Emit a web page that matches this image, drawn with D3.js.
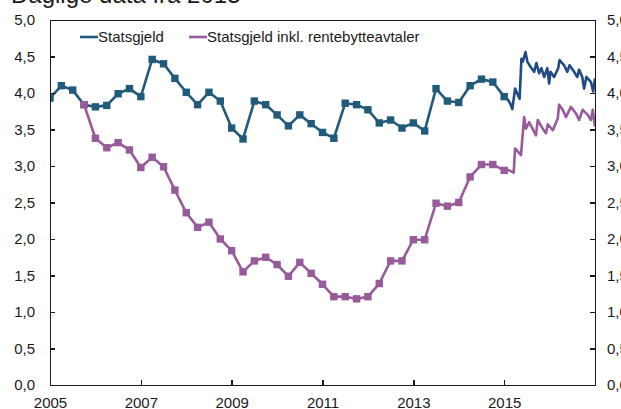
<!DOCTYPE html>
<html>
<head>
<meta charset="utf-8">
<script src="https://cdn.jsdelivr.net/npm/d3@7"></script>
<style>
  body { margin: 0; background: #fff; }
  svg text { font-family: "Liberation Sans", Arial, sans-serif; fill: #1a1a1a; }
  .axis path, .axis line { stroke: #1a1a1a; stroke-width: 1.4px; shape-rendering: crispEdges; }
  .axis text { font-size: 15px; }
</style>
</head>
<body>
<svg id="chart" width="621" height="409"></svg>
<script>
// kvartalsdata, statsgjeld
var quarterTimes = [2004.75, 2005.0, 2005.25, 2005.5, 2005.75, 2006.0, 2006.25, 2006.5, 2006.75,
    2007.0, 2007.25, 2007.5, 2007.75, 2008.0, 2008.25, 2008.5, 2008.75, 2009.0, 2009.25, 2009.5,
    2009.75, 2010.0, 2010.25, 2010.5, 2010.75, 2011.0, 2011.25, 2011.5, 2011.75, 2012.0, 2012.25,
    2012.5, 2012.75, 2013.0, 2013.25, 2013.5, 2013.75, 2014.0, 2014.25, 2014.5, 2014.75, 2015.0];
var statsgjeld = [3.77, 3.93, 4.10, 4.04, 3.84, 3.81, 3.83, 3.99, 4.06,
    3.95, 4.46, 4.40, 4.20, 4.01, 3.84, 4.01, 3.89, 3.52, 3.37, 3.89,
    3.84, 3.70, 3.55, 3.70, 3.58, 3.46, 3.38, 3.86, 3.84, 3.77, 3.59,
    3.63, 3.52, 3.59, 3.48, 4.06, 3.89, 3.87, 4.10, 4.19, 4.15, 3.95];

// kvartalsdata, statsgjeld inkl. rentebytteavtaler (fra 2005K4)
var swapTimes = [2005.75, 2006.0, 2006.25, 2006.5, 2006.75, 2007.0, 2007.25, 2007.5, 2007.75,
    2008.0, 2008.25, 2008.5, 2008.75, 2009.0, 2009.25, 2009.5, 2009.75, 2010.0, 2010.25, 2010.5,
    2010.75, 2011.0, 2011.25, 2011.5, 2011.75, 2012.0, 2012.25, 2012.5, 2012.75, 2013.0, 2013.25,
    2013.5, 2013.75, 2014.0, 2014.25, 2014.5, 2014.75, 2015.0];
var statsgjeldSwap = [3.84, 3.38, 3.25, 3.32, 3.22, 2.98, 3.12, 2.99, 2.67,
    2.36, 2.16, 2.23, 2.00, 1.84, 1.55, 1.70, 1.75, 1.65, 1.49, 1.68,
    1.53, 1.38, 1.21, 1.21, 1.18, 1.21, 1.39, 1.70, 1.70, 1.99, 1.99,
    2.49, 2.45, 2.50, 2.85, 3.02, 3.02, 2.94];

// daglige data fra 2015
var dailyTimes = [2015.0, 2015.07, 2015.13, 2015.18, 2015.24, 2015.29, 2015.34, 2015.38, 2015.41,
    2015.47, 2015.51, 2015.58, 2015.66, 2015.71, 2015.77, 2015.82, 2015.88, 2015.95, 2015.99,
    2016.02, 2016.10, 2016.19, 2016.22, 2016.32, 2016.39, 2016.44, 2016.54, 2016.61, 2016.65,
    2016.72, 2016.76, 2016.81, 2016.91, 2016.96, 2017.0];
var dailyStatsgjeld = [3.95, 3.92, 3.86, 3.78, 4.06, 3.99, 3.92, 4.47, 4.43,
    4.56, 4.43, 4.36, 4.29, 4.41, 4.27, 4.34, 4.22, 4.34, 4.13,
    4.29, 4.22, 4.34, 4.45, 4.38, 4.29, 4.38, 4.29, 4.22, 4.32,
    4.22, 4.06, 4.22, 4.15, 4.02, 4.20];

var dailySwapTimes = [2015.0, 2015.04, 2015.21, 2015.24, 2015.37, 2015.44, 2015.48, 2015.55, 2015.70,
    2015.74, 2015.85, 2015.92, 2015.96, 2016.07, 2016.18, 2016.21, 2016.29, 2016.36, 2016.47,
    2016.58, 2016.65, 2016.73, 2016.84, 2016.91, 2016.95, 2017.0];
var dailyStatsgjeldSwap = [2.94, 2.96, 2.91, 3.24, 3.15, 3.67, 3.51, 3.60, 3.42,
    3.63, 3.51, 3.45, 3.57, 3.49, 3.65, 3.84, 3.77, 3.67, 3.81,
    3.72, 3.63, 3.77, 3.70, 3.63, 3.77, 3.54];

var yTicks = [0, 0.5, 1, 1.5, 2, 2.5, 3, 3.5, 4, 4.5, 5];
var xTicks = [2005, 2007, 2009, 2011, 2013, 2015];
var legendLabels = ["Statsgjeld", "Statsgjeld inkl. rentebytteavtaler"];

var colBlue = "#215b7c", colBlueDaily = "#1f4c88", colPurple = "#975b9c";

var svg = d3.select("#chart");
var padding = {left: 50, right: 26, top: 20, bottom: 24};
var width = 621 - padding.left - padding.right;
var height = 409 - padding.top - padding.bottom;

var x = d3.scaleLinear().domain([2005, 2017]).range([0, width]);
var y = d3.scaleLinear().domain([0, 5]).range([height, 0]);

var locale = d3.formatLocale({decimal: ",", thousands: " ", grouping: [3], currency: ["", " kr"]});
var fmt = locale.format(".1f");

// tittel (delvis utenfor bildet)
svg.append("text")
    .attr("x", 11).attr("y", 3)
    .style("font-size", "24px")
    .text("Daglige data fra 2015");

var g = svg.append("g")
    .attr("transform", "translate(" + padding.left + "," + padding.top + ")");

g.append("clipPath").attr("id", "plotclip")
    .append("rect").attr("width", width).attr("height", height);

function zip(ts, vs) {
    return ts.map(function(t, i) { return {t: t, v: vs[i]}; });
}

var line = d3.line()
    .x(function(d) { return x(d.t); })
    .y(function(d) { return y(d.v); });

var plot = g.append("g").attr("clip-path", "url(#plotclip)");

function drawSeries(data, color, markers) {
    plot.append("path")
        .datum(data)
        .attr("fill", "none")
        .attr("stroke", color)
        .attr("stroke-width", 2.6)
        .attr("stroke-linejoin", "round")
        .attr("d", line);
    if (!markers) return;
    plot.append("g").selectAll("rect")
        .data(data)
        .enter().append("rect")
        .attr("x", function(d) { return x(d.t) - 3.7; })
        .attr("y", function(d) { return y(d.v) - 3.7; })
        .attr("width", 7.4)
        .attr("height", 7.4)
        .attr("fill", color);
}

drawSeries(zip(dailyTimes, dailyStatsgjeld), colBlueDaily, false);
drawSeries(zip(dailySwapTimes, dailyStatsgjeldSwap), colPurple, false);
drawSeries(zip(quarterTimes, statsgjeld), colBlue, true);
drawSeries(zip(swapTimes, statsgjeldSwap), colPurple, true);

// akser
g.append("g").attr("class", "axis")
    .call(d3.axisLeft(y).tickValues(yTicks).tickFormat(fmt).tickSizeInner(-5).tickSizeOuter(0).tickPadding(15));

g.append("g").attr("class", "axis")
    .attr("transform", "translate(" + width + ",0)")
    .call(d3.axisRight(y).tickValues(yTicks).tickFormat(fmt).tickSizeInner(-5).tickSizeOuter(0).tickPadding(12));

g.append("g").attr("class", "axis")
    .attr("transform", "translate(0," + height + ")")
    .call(d3.axisBottom(x).tickValues(xTicks).tickFormat(d3.format("d")).tickSizeInner(-5).tickSizeOuter(0).tickPadding(12));

g.append("g").attr("class", "axis")
    .call(d3.axisTop(x).tickValues([]).tickSizeOuter(0));

// legende
var legend = g.append("g").attr("transform", "translate(30,17)");
var legendX = [0, 109];
var legendCols = [colBlue, colPurple];
legendLabels.forEach(function(lbl, i) {
    legend.append("line")
        .attr("x1", legendX[i]).attr("x2", legendX[i] + 18)
        .attr("y1", 0).attr("y2", 0)
        .attr("stroke", legendCols[i]).attr("stroke-width", 2.6);
    legend.append("text")
        .attr("x", legendX[i] + 18).attr("y", 5)
        .style("font-size", "15px")
        .text(lbl);
});
</script>
</body>
</html>
